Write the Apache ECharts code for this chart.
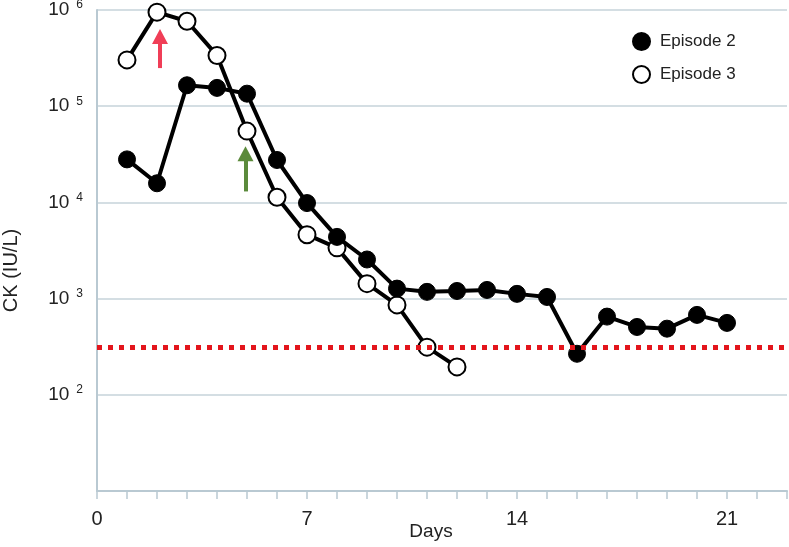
<!DOCTYPE html>
<html>
<head>
<meta charset="utf-8">
<script src="https://cdn.jsdelivr.net/npm/echarts@6/dist/echarts.min.js"></script>
<style>
html,body{margin:0;padding:0;background:#fff;}
#chart{width:789px;height:547px;}
</style>
</head>
<body>
<div id="chart"></div>
<script>
const days = [1,2,3,4,5,6,7,8,9,10,11,12,13,14,15,16,17,18,19,20,21];
const episode2 = [28000,15800,165000,155000,135000,27600,9840,4380,2550,1270,1175,1200,1230,1120,1040,267,650,507,487,677,559];
const episode3 = [303000,950000,764000,337000,55100,11300,4620,3370,1430,860,313,195];
const normalLimit = 310;
const xTickLabels = [0,7,14,21];
const redArrow = {x:2.1, from:249000, to:530000};
const greenArrow = {x:4.95, from:13000, to:32000};

const chart = echarts.init(document.getElementById('chart'));
const font = "'Liberation Sans', Arial, Helvetica, sans-serif";
const narrow = "'Liberation Sans Narrow', 'Liberation Sans', Arial, sans-serif";
const gridColor = '#c6d3da';

function arrowLine(a, color){
  return {
    type:'line', data:[], silent:true,
    markLine:{
      silent:true, symbol:['none','triangle'], symbolSize:[16,15],
      label:{show:false},
      lineStyle:{color:color,width:4,type:'solid'},
      emphasis:{disabled:true},
      data:[[{coord:[a.x,a.from]},{coord:[a.x,a.to]}]]
    }
  };
}

chart.setOption({
  animation:false,
  textStyle:{fontFamily:font},
  grid:{left:97,right:2,top:10,bottom:56,containLabel:false,outerBoundsMode:'none'},
  legend:{
    orient:'vertical', left:627, top:27, itemGap:14,
    itemWidth:17, itemHeight:17,
    textStyle:{fontSize:17,color:'#222',fontFamily:font,padding:[0,0,0,5]},
    data:[{name:'Episode 2',icon:'circle'},{name:'Episode 3',icon:'circle'}]
  },
  xAxis:{
    type:'value', min:0, max:23, interval:1,
    name:'Days', nameLocation:'middle', nameGap:31, nameMoveOverlap:false,
    nameTextStyle:{fontSize:19,color:'#222',fontFamily:narrow,padding:[0,22,0,0]},
    axisLine:{lineStyle:{color:'#b9c9d2',width:2}},
    axisTick:{show:true,length:8,lineStyle:{color:'#b9c9d2',width:1.5}},
    axisLabel:{fontSize:20,color:'#222',fontFamily:narrow,margin:18,
      formatter:v=> xTickLabels.indexOf(v)>=0 ? String(v) : ''},
    splitLine:{show:false}
  },
  yAxis:{
    type:'log', logBase:10, min:10, max:1000000,
    name:'CK (IU/L)', nameLocation:'middle', nameGap:76, nameMoveOverlap:false,
    nameTextStyle:{fontSize:20,color:'#222',fontFamily:font,padding:[0,40,0,0]},
    axisLine:{show:true,lineStyle:{color:'#b9c9d2',width:2}},
    axisTick:{show:false},
    splitLine:{show:true,lineStyle:{color:gridColor,width:1.5}},
    axisLabel:{margin:14,
      formatter:v=>{const e=Math.round(Math.log10(v)); return e<=1 ? '' : '{b|10}{s|'+e+'}';},
      rich:{
        b:{fontSize:19,color:'#222',fontFamily:font},
        s:{fontSize:12,color:'#222',fontFamily:font,verticalAlign:'top',padding:[0,0,10,7]}
      }
    }
  },
  series:[
    {
      name:'Episode 3', type:'line', z:3,
      data:episode3.map((v,i)=>[days[i],v]),
      symbol:'circle', symbolSize:17,
      lineStyle:{color:'#000',width:4},
      itemStyle:{color:'#fff',borderColor:'#000',borderWidth:2},
      emphasis:{disabled:true}
    },
    {
      name:'Episode 2', type:'line', z:4,
      data:episode2.map((v,i)=>[days[i],v]),
      symbol:'circle', symbolSize:17,
      lineStyle:{color:'#000',width:4},
      itemStyle:{color:'#000',borderColor:'#000',borderWidth:1},
      emphasis:{disabled:true},
      markLine:{
        silent:true, symbol:['none','none'], label:{show:false},
        lineStyle:{color:'#e3151c',width:5,type:[5,6]},
        emphasis:{disabled:true},
        data:[{yAxis:normalLimit}]
      }
    },
    arrowLine(redArrow,'#f03e57'),
    arrowLine(greenArrow,'#5b8a3b')
  ]
});
</script>
</body>
</html>
